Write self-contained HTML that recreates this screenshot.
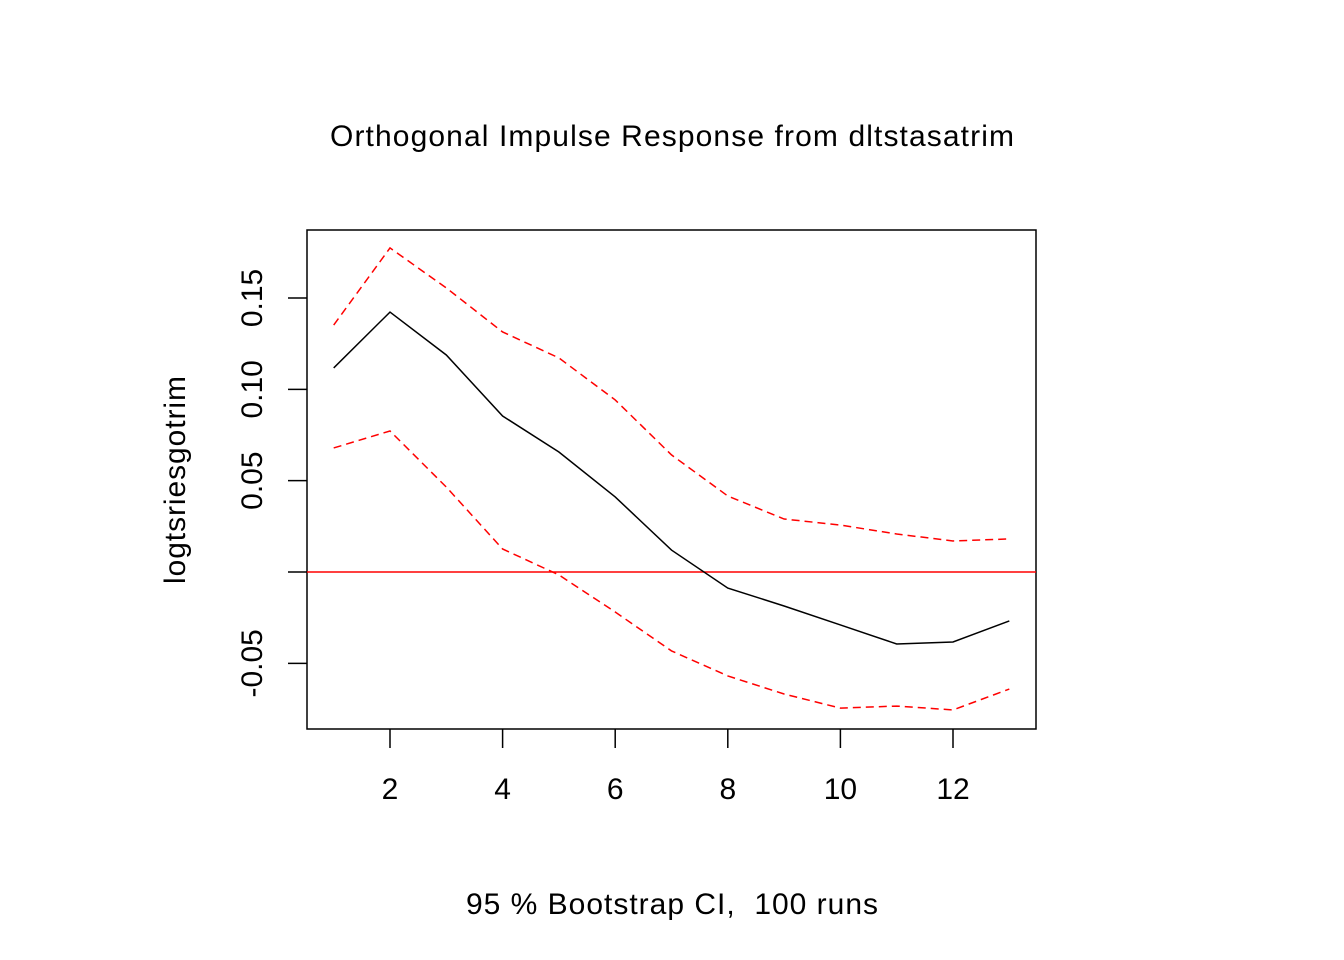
<!DOCTYPE html>
<html><head><meta charset="utf-8"><style>
html,body{margin:0;padding:0;background:#fff}
svg{display:block;font-family:"Liberation Sans",Arial,sans-serif}
text{white-space:pre}
</style></head><body>
<svg id="chart" width="1344" height="960" viewBox="0 0 1344 960">
<text x="672" y="146" font-size="30" text-anchor="middle" textLength="684" lengthAdjust="spacing">Orthogonal Impulse Response from dltstasatrim</text>
<text x="672" y="914" font-size="30" text-anchor="middle" textLength="412" lengthAdjust="spacing" xml:space="preserve">95 % Bootstrap CI,  100 runs</text>
<text transform="translate(185,480) rotate(-90)" font-size="30" text-anchor="middle" textLength="208" lengthAdjust="spacing">logtsriesgotrim</text>
<rect x="307" y="230" width="729" height="499" fill="none" stroke="#000" stroke-width="1.5"/>
<g id="xaxis"></g>
<g id="yaxis"></g>
<g id="series"></g>
</svg>
<script>
const lags=[1,2,3,4,5,6,7,8,9,10,11,12,13];
const irf=[0.1117,0.1423,0.1188,0.0854,0.0657,0.0411,0.0120,-0.0088,-0.0186,-0.0290,-0.0394,-0.0383,-0.0268];
const upper=[0.1352,0.1774,0.1555,0.1314,0.1172,0.0942,0.0641,0.0416,0.0290,0.0257,0.0208,0.0170,0.0181];
const lower=[0.0679,0.0772,0.0465,0.0126,-0.0016,-0.0219,-0.0432,-0.0569,-0.0668,-0.0745,-0.0734,-0.0755,-0.0641];
const xTicks=[2,4,6,8,10,12];
const yTicks=[-0.05,0,0.05,0.10,0.15];
const yTickLabels=["-0.05","","0.05","0.10","0.15"];

const NS="http://www.w3.org/2000/svg";
function X(v){return 390+(v-2)*56.3;}
function Y(v){return 572-v*1826.7;}
function mk(t,a,p){const e=document.createElementNS(NS,t);for(const k in a)e.setAttribute(k,a[k]);p.appendChild(e);return e;}
const xa=document.getElementById('xaxis'),ya=document.getElementById('yaxis'),sg=document.getElementById('series');
xTicks.forEach(t=>{
  const l=mk('line',{x1:X(t),x2:X(t),y1:729,y2:748,stroke:'#000','stroke-width':1.5},xa);
  
  
  const tx=mk('text',{x:X(t),y:799,'font-size':30,'text-anchor':'middle'},xa);
  tx.textContent=t;
  
  
});
yTicks.forEach((t,i)=>{
  const l=mk('line',{x1:288,x2:307,y1:Y(t),y2:Y(t),stroke:'#000','stroke-width':1.5},ya);
  
  
  if(yTickLabels[i]){
    const tx=mk('text',{transform:`translate(262,${Y(t)}) rotate(-90)`,'font-size':30,'text-anchor':'middle'},ya);
    tx.textContent=yTickLabels[i];
    
    
  }
});
const zl=mk('line',{x1:307,x2:1036,y1:Y(0),y2:Y(0),stroke:'#ff0000','stroke-width':1.5},sg);


function poly(vals,color,dash,name){
  const pts=vals.map((v,i)=>X(lags[i])+','+Y(v)).join(' ');
  const a={points:pts,fill:'none',stroke:color,'stroke-width':1.5};
  if(dash)a['stroke-dasharray']=dash;
  const p=mk('polyline',a,sg);
  
  
}
poly(upper,'#ff0000','8,5','upper-ci-line');
poly(lower,'#ff0000','8,5','lower-ci-line');
poly(irf,'#000','','irf-line');
</script>
</body></html>
